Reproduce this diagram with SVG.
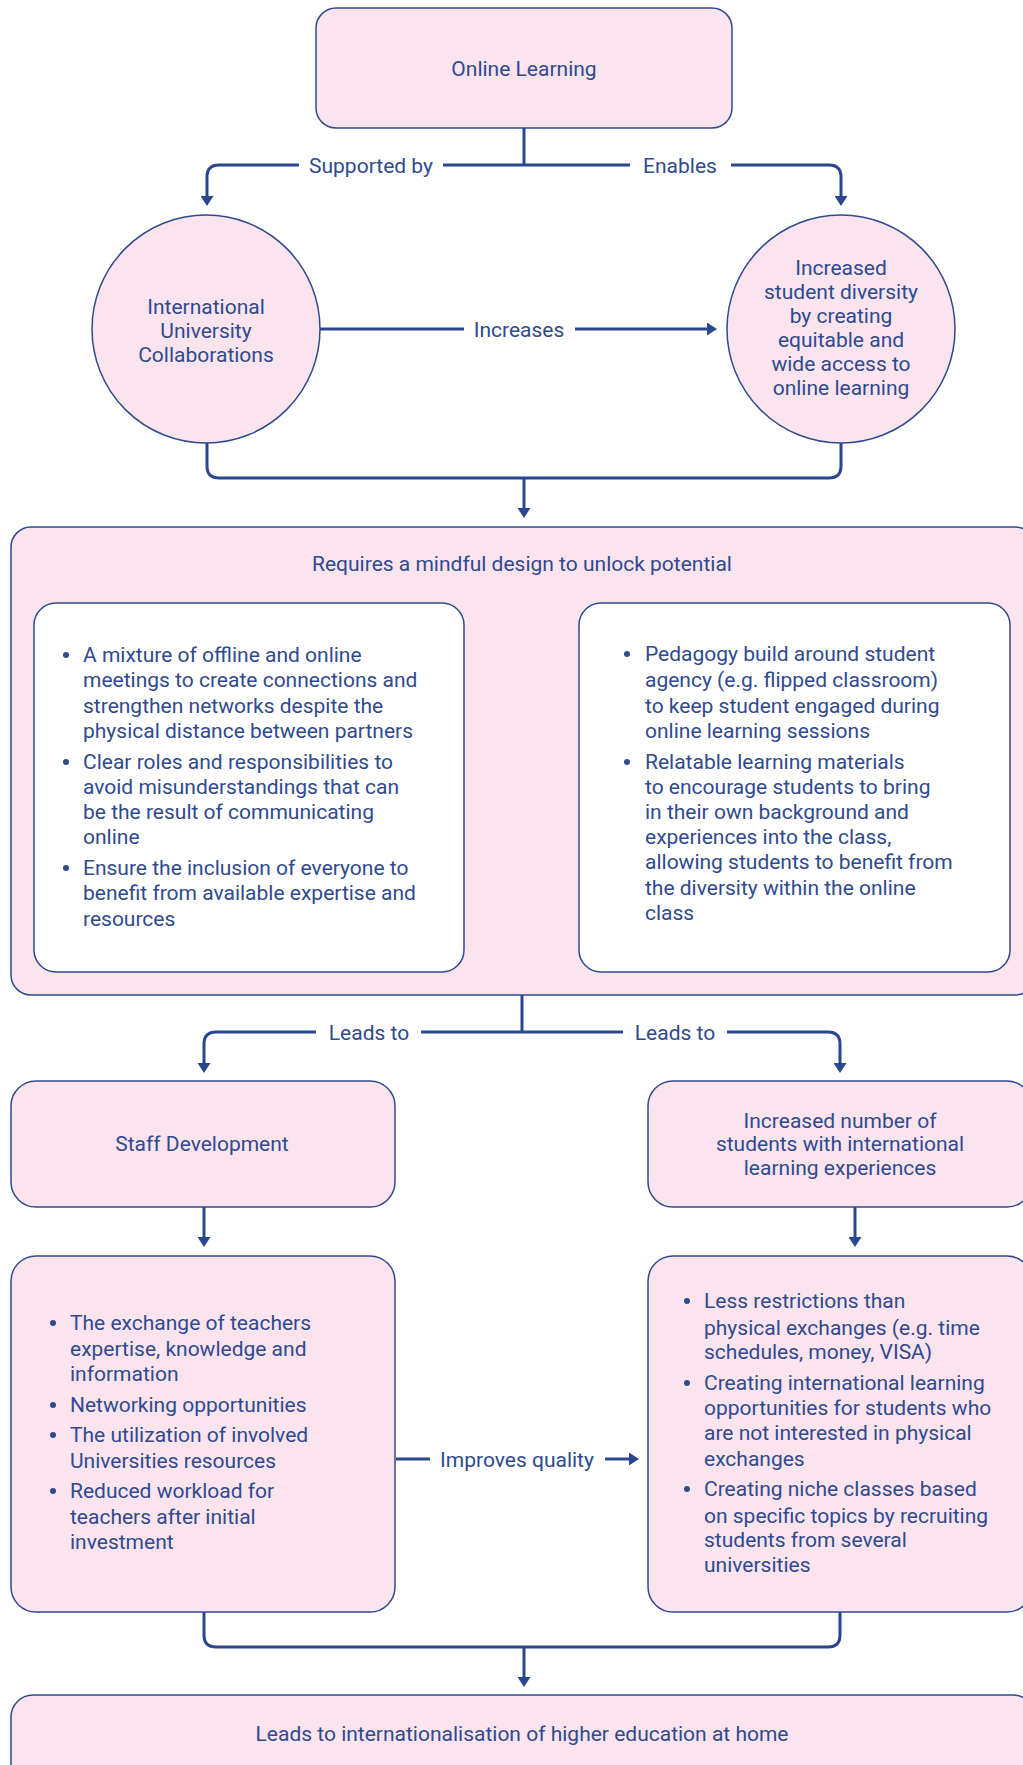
<svg xmlns="http://www.w3.org/2000/svg" width="1023" height="1765" viewBox="0 0 1023 1765">
<style>
.box{fill:#fbe4ee;stroke:#2f4a8e;stroke-width:1.5}
.inner{fill:#ffffff;stroke:#2f4a8e;stroke-width:1.5}
.t{font-family:Roboto,"Liberation Sans",sans-serif;font-size:21px;fill:#2f4a8e}
.c{text-anchor:middle}
.con{fill:none;stroke:#2a4690;stroke-width:3}
.dot{fill:#2f4a8e}
</style>
<defs>
<marker id="ah" viewBox="0 0 10 13" refX="4" refY="6.5" markerWidth="10" markerHeight="13" markerUnits="userSpaceOnUse" orient="auto">
<path d="M0,0 L10,6.5 L0,13 z" fill="#2a4690"/>
</marker>
</defs>
<rect width="1023" height="1765" fill="#ffffff"/>

<g id="connectors">
<path class="con" d="M524,128 V165"/>
<path class="con" d="M299,165 H219 Q207,165 207,177 V200" marker-end="url(#ah)"/>
<path class="con" d="M443,165 H630"/>
<path class="con" d="M731,165 H829 Q841,165 841,177 V200" marker-end="url(#ah)"/>
<path class="con" d="M320,329 H464"/>
<path class="con" d="M575,329 H711" marker-end="url(#ah)"/>
<path class="con" d="M207,443 V466 Q207,478 219,478 H829 Q841,478 841,466 V443"/>
<path class="con" d="M524,478 V512" marker-end="url(#ah)"/>
<path class="con" d="M522,995 V1032"/>
<path class="con" d="M316,1032 H216 Q204,1032 204,1044 V1067" marker-end="url(#ah)"/>
<path class="con" d="M421,1032 H623"/>
<path class="con" d="M727,1032 H828 Q840,1032 840,1044 V1067" marker-end="url(#ah)"/>
<path class="con" d="M204,1207 V1241" marker-end="url(#ah)"/>
<path class="con" d="M855,1207 V1241" marker-end="url(#ah)"/>
<path class="con" d="M396,1459 H430"/>
<path class="con" d="M605,1459 H633" marker-end="url(#ah)"/>
<path class="con" d="M204,1612 V1635 Q204,1647 216,1647 H828 Q840,1647 840,1635 V1612"/>
<path class="con" d="M524,1647 V1681" marker-end="url(#ah)"/>
<text class="t c" x="371" y="173">Supported by</text>
<text class="t c" x="680" y="173">Enables</text>
<text class="t c" x="519" y="337">Increases</text>
<text class="t c" x="369" y="1040">Leads to</text>
<text class="t c" x="675" y="1040">Leads to</text>
<text class="t c" x="517" y="1467">Improves quality</text>
</g>

<g id="online-learning">
<rect class="box" x="316" y="8" width="416" height="120" rx="20"/>
<text class="t c" x="524" y="76">Online Learning</text>
</g>

<g id="collaborations">
<circle class="box" cx="206" cy="329" r="114"/>
<text class="t c" x="206" y="314">International</text>
<text class="t c" x="206" y="338">University</text>
<text class="t c" x="206" y="362">Collaborations</text>
</g>

<g id="diversity">
<circle class="box" cx="841" cy="329" r="114"/>
<text class="t c" x="841" y="275">Increased</text>
<text class="t c" x="841" y="299">student diversity</text>
<text class="t c" x="841" y="323">by creating</text>
<text class="t c" x="841" y="347">equitable and</text>
<text class="t c" x="841" y="371">wide access to</text>
<text class="t c" x="841" y="395">online learning</text>
</g>

<g id="mindful-design">
<rect class="box" x="11" y="527" width="1024" height="468" rx="20"/>
<text class="t c" x="522" y="571">Requires a mindful design to unlock potential</text>
</g>

<g id="design-left">
<rect class="inner" x="34" y="603" width="430" height="369" rx="22"/>
<circle class="dot" cx="66" cy="655" r="3"/>
<circle class="dot" cx="66" cy="762" r="3"/>
<circle class="dot" cx="66" cy="868" r="3"/>
<text class="t" x="83" y="662">A mixture of offline and online</text>
<text class="t" x="83" y="687">meetings to create connections and</text>
<text class="t" x="83" y="713">strengthen networks despite the</text>
<text class="t" x="83" y="738">physical distance between partners</text>
<text class="t" x="83" y="769">Clear roles and responsibilities to</text>
<text class="t" x="83" y="794">avoid misunderstandings that can</text>
<text class="t" x="83" y="819">be the result of communicating</text>
<text class="t" x="83" y="844">online</text>
<text class="t" x="83" y="875">Ensure the inclusion of everyone to</text>
<text class="t" x="83" y="900">benefit from available expertise and</text>
<text class="t" x="83" y="926">resources</text>
</g>

<g id="design-right">
<rect class="inner" x="579" y="603" width="431" height="369" rx="22"/>
<circle class="dot" cx="627" cy="654" r="3"/>
<circle class="dot" cx="627" cy="762" r="3"/>
<text class="t" x="645" y="661">Pedagogy build around student</text>
<text class="t" x="645" y="687">agency (e.g. flipped classroom)</text>
<text class="t" x="645" y="713">to keep student engaged during</text>
<text class="t" x="645" y="738">online learning sessions</text>
<text class="t" x="645" y="769">Relatable learning materials</text>
<text class="t" x="645" y="794">to encourage students to bring</text>
<text class="t" x="645" y="819">in their own background and</text>
<text class="t" x="645" y="844">experiences into the class,</text>
<text class="t" x="645" y="869">allowing students to benefit from</text>
<text class="t" x="645" y="895">the diversity within the online</text>
<text class="t" x="645" y="920">class</text>
</g>

<g id="staff-development">
<rect class="box" x="11" y="1081" width="384" height="126" rx="25"/>
<text class="t c" x="202" y="1151">Staff Development</text>
</g>

<g id="increased-number">
<rect class="box" x="648" y="1081" width="384" height="126" rx="25"/>
<text class="t c" x="840" y="1128">Increased number of</text>
<text class="t c" x="840" y="1151">students with international</text>
<text class="t c" x="840" y="1175">learning experiences</text>
</g>

<g id="staff-benefits">
<rect class="box" x="11" y="1256" width="384" height="356" rx="25"/>
<circle class="dot" cx="53" cy="1323" r="3"/>
<circle class="dot" cx="53" cy="1405" r="3"/>
<circle class="dot" cx="53" cy="1435" r="3"/>
<circle class="dot" cx="53" cy="1491" r="3"/>
<text class="t" x="70" y="1330">The exchange of teachers</text>
<text class="t" x="70" y="1356">expertise, knowledge and</text>
<text class="t" x="70" y="1381">information</text>
<text class="t" x="70" y="1412">Networking opportunities</text>
<text class="t" x="70" y="1442">The utilization of involved</text>
<text class="t" x="70" y="1468">Universities resources</text>
<text class="t" x="70" y="1498">Reduced workload for</text>
<text class="t" x="70" y="1524">teachers after initial</text>
<text class="t" x="70" y="1549">investment</text>
</g>

<g id="student-benefits">
<rect class="box" x="648" y="1256" width="384" height="356" rx="25"/>
<circle class="dot" cx="687" cy="1301" r="3"/>
<circle class="dot" cx="687" cy="1383" r="3"/>
<circle class="dot" cx="687" cy="1489" r="3"/>
<text class="t" x="704" y="1308">Less restrictions than</text>
<text class="t" x="704" y="1335">physical exchanges (e.g. time</text>
<text class="t" x="704" y="1359">schedules, money, VISA)</text>
<text class="t" x="704" y="1390">Creating international learning</text>
<text class="t" x="704" y="1415">opportunities for students who</text>
<text class="t" x="704" y="1440">are not interested in physical</text>
<text class="t" x="704" y="1466">exchanges</text>
<text class="t" x="704" y="1496">Creating niche classes based</text>
<text class="t" x="704" y="1523">on specific topics by recruiting</text>
<text class="t" x="704" y="1547">students from several</text>
<text class="t" x="704" y="1572">universities</text>
</g>

<g id="internationalisation">
<rect class="box" x="11" y="1695" width="1024" height="100" rx="22"/>
<text class="t c" x="522" y="1741">Leads to internationalisation of higher education at home</text>
</g>
</svg>
